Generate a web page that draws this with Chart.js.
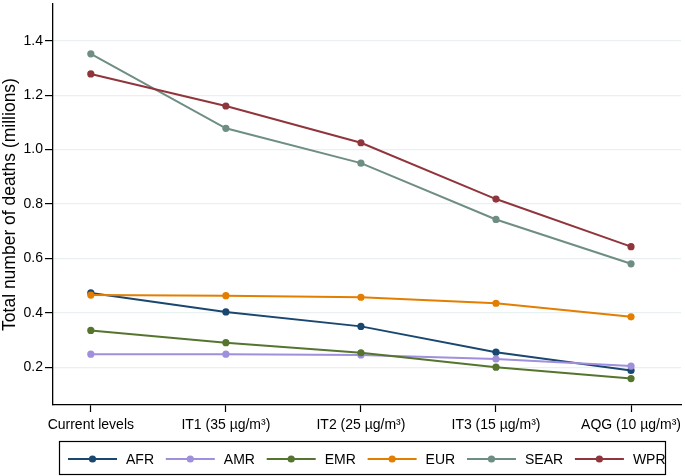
<!DOCTYPE html>
<html><head><meta charset="utf-8">
<script src="https://cdn.jsdelivr.net/npm/chart.js@4/dist/chart.umd.min.js"></script>
<style>html,body{margin:0;padding:0;background:#fff}</style>
</head><body>
<canvas id="c" width="685" height="476" style="width:685px;height:476px;display:block"></canvas>
<script>
const categories = ["Current levels", "IT1 (35 \u00b5g/m\u00b3)", "IT2 (25 \u00b5g/m\u00b3)", "IT3 (15 \u00b5g/m\u00b3)", "AQG (10 \u00b5g/m\u00b3)"];
const seriesNames = ["AFR", "AMR", "EMR", "EUR", "SEAR", "WPR"];
const seriesColors = ["#1a476f", "#a08fdc", "#55752f", "#e37e00", "#6e8e84", "#90353b"];
const AFR  = [0.473, 0.403, 0.350, 0.255, 0.188];
const AMR  = [0.248, 0.248, 0.245, 0.230, 0.204];
const EMR  = [0.335, 0.290, 0.253, 0.200, 0.158];
const EUR  = [0.465, 0.463, 0.457, 0.435, 0.385];
const SEAR = [1.352, 1.078, 0.950, 0.743, 0.580];
const WPR  = [1.278, 1.160, 1.025, 0.818, 0.643];
const seriesValues = [AFR, AMR, EMR, EUR, SEAR, WPR];
const yTicks = [0.2, 0.4, 0.6, 0.8, 1.0, 1.2, 1.4];
const yTitle = "Total number of deaths (millions)";

const FONT = "'Liberation Sans', Arial, sans-serif";

const datasets = seriesNames.map((n, i) => ({
  label: n,
  data: seriesValues[i].map((v, j) => ({x: j, y: v})),
  borderColor: seriesColors[i],
  backgroundColor: seriesColors[i],
  pointBackgroundColor: seriesColors[i],
  pointBorderColor: seriesColors[i],
  borderWidth: 2,
  pointRadius: 3.6,
  pointBorderWidth: 0,
  tension: 0,
  order: seriesNames.length - i
}));

const legendBox = {
  id: 'legendBox',
  afterDraw(chart) {
    const ctx = chart.ctx;
    ctx.save();
    ctx.strokeStyle = '#000';
    ctx.lineWidth = 1.2;
    ctx.strokeRect(59.5, 441.5, 606, 33);
    ctx.font = "14px " + FONT;
    ctx.textBaseline = 'middle';
    let x = 68;
    const y = 459;
    chart.data.datasets.forEach(ds => {
      ctx.strokeStyle = ds.borderColor;
      ctx.fillStyle = ds.borderColor;
      ctx.lineWidth = 2;
      ctx.beginPath(); ctx.moveTo(x, y); ctx.lineTo(x + 49, y); ctx.stroke();
      ctx.beginPath(); ctx.arc(x + 24.5, y, 3.6, 0, Math.PI * 2); ctx.fill();
      x += 58;
      ctx.fillStyle = '#000';
      ctx.fillText(ds.label, x, y + 1);
      x += ctx.measureText(ds.label).width + 11.8;
    });
    ctx.restore();
  }
};

new Chart(document.getElementById('c'), {
  type: 'line',
  data: { datasets },
  options: {
    responsive: false,
    animation: false,
    layout: { padding: { top: 2, right: 2, bottom: 34, left: 0 } },
    plugins: { legend: { display: false }, tooltip: { enabled: false } },
    scales: {
      x: {
        type: 'linear',
        min: -0.28,
        max: 4.37,
        afterBuildTicks: s => { s.ticks = categories.map((c, i) => ({ value: i })); },
        afterFit: s => { s.height = 37; s.paddingLeft = 0; s.paddingRight = 0; },
        ticks: {
          callback: (v) => categories[v],
          color: '#000',
          font: { family: FONT, size: 14 },
          maxRotation: 0,
          autoSkip: false,
          padding: 5
        },
        grid: { drawOnChartArea: false, drawTicks: true, tickLength: 7, tickColor: '#000', tickWidth: 1.2 },
        border: { color: '#000', width: 1.3 }
      },
      y: {
        min: 0.061,
        max: 1.535,
        afterBuildTicks: s => { s.ticks = yTicks.map(v => ({ value: v })); },
        afterFit: s => { s.width = 53; s.paddingTop = 0; s.paddingBottom = 0; },
        ticks: {
          callback: v => v.toFixed(1),
          color: '#000',
          font: { family: FONT, size: 14 },
          padding: 2
        },
        title: {
          display: true,
          text: yTitle,
          color: '#000',
          font: { family: FONT, size: 17.5 },
          padding: { top: 0, bottom: 0 }
        },
        grid: { color: '#e8f0f1', lineWidth: 1.2, drawTicks: true, tickLength: 8, tickColor: '#000', tickWidth: 1.2 },
        border: { color: '#000', width: 1.3 }
      }
    }
  },
  plugins: [legendBox]
});
</script>
</body></html>
